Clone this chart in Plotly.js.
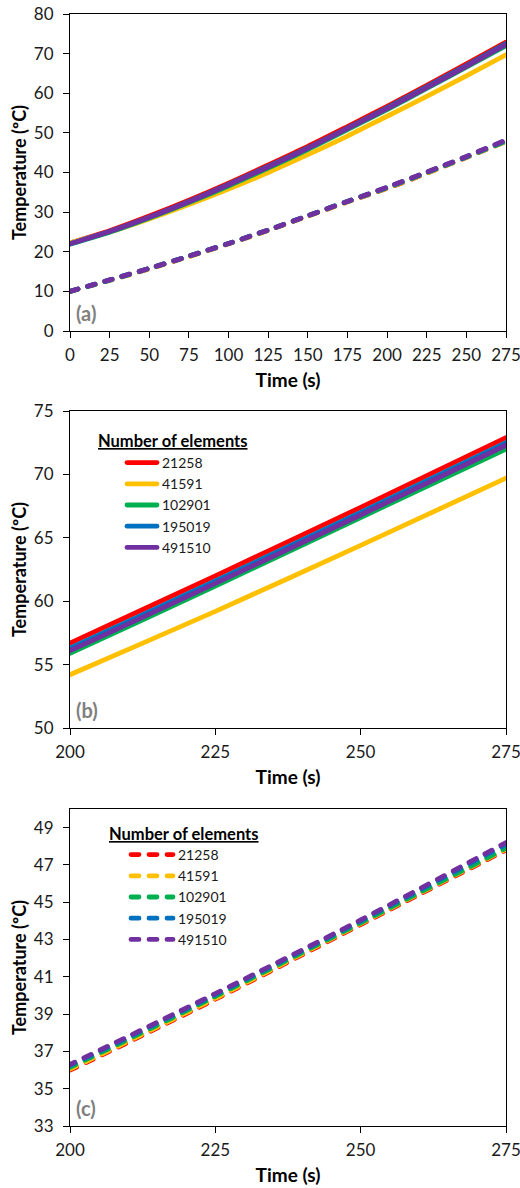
<!DOCTYPE html>
<html>
<head>
<meta charset="utf-8">
<script src="https://cdn.plot.ly/plotly-3.0.1.min.js"></script>
<style>
html,body{margin:0;padding:0;background:#fff;}
#chart{width:520px;height:1188px;}
#chart path.js-line{stroke-linecap:round;}
</style>
</head>
<body>
<div id="chart"></div>
<script>
// ---- data ----
const time = [0, 25, 50, 75, 100, 125, 150, 175, 200, 225, 250, 275];
const meshLabels = ['21258', '41591', '102901', '195019', '491510'];

// surface temperature (solid lines)
const solid21258  = [22.2, 25.3, 29.0, 33.0, 37.3, 41.9, 46.6, 51.6, 56.7, 62.0, 67.4, 72.9];
const solid41591  = [22.3, 25.0, 28.3, 31.9, 35.8, 40.0, 44.5, 49.2, 54.2, 59.2, 64.4, 69.7];
const solid102901 = [21.9, 24.9, 28.5, 32.4, 36.6, 41.1, 45.8, 50.8, 55.9, 61.2, 66.6, 72.0];
const solid195019 = [22.0, 25.1, 28.7, 32.7, 37.0, 41.5, 46.2, 51.2, 56.3, 61.6, 67.0, 72.5];
const solid491510 = [22.0, 25.1, 28.7, 32.6, 36.9, 41.4, 46.1, 51.1, 56.1, 61.4, 66.8, 72.3];

// inner temperature (dashed lines)
const dash21258  = [10.0, 12.8, 15.7, 18.8, 22.0, 25.4, 29.0, 32.6, 36.00, 39.80, 43.80, 47.80];
const dash41591  = [10.0, 12.8, 15.7, 18.8, 22.0, 25.4, 29.0, 32.6, 36.05, 39.85, 43.85, 47.85];
const dash102901 = [10.0, 12.8, 15.8, 18.9, 22.1, 25.5, 29.1, 32.7, 36.15, 39.95, 43.90, 47.90];
const dash195019 = [10.0, 12.9, 15.8, 18.9, 22.1, 25.5, 29.1, 32.7, 36.25, 40.05, 44.00, 48.10];
const dash491510 = [10.0, 12.9, 15.8, 18.9, 22.1, 25.5, 29.1, 32.7, 36.30, 40.10, 44.05, 48.20];

const solidSeries = [solid21258, solid41591, solid102901, solid195019, solid491510];
const dashSeries  = [dash21258, dash41591, dash102901, dash195019, dash491510];

// ---- styles ----
const colors = ['#FF0000', '#FFC000', '#00B050', '#0070C0', '#7030A0'];
const FONT = 'Lato, "Open Sans", sans-serif';
const TXT = '#1a1a1a';
const DASH = '8px,10px';
const LW = 4.8;

const traces = [];
// panel (a)
for (let i = 0; i < 5; i++) {
  traces.push({x: time, y: solidSeries[i], xaxis: 'x', yaxis: 'y', mode: 'lines',
    line: {color: colors[i], width: LW, shape: 'spline', smoothing: 0.8}, showlegend: false, hoverinfo: 'skip'});
}
for (let i = 0; i < 5; i++) {
  traces.push({x: time, y: dashSeries[i], xaxis: 'x', yaxis: 'y', mode: 'lines',
    line: {color: colors[i], width: LW, dash: DASH, shape: 'spline', smoothing: 0.8}, showlegend: false, hoverinfo: 'skip'});
}
// panel (b)
for (let i = 0; i < 5; i++) {
  traces.push({x: time, y: solidSeries[i], xaxis: 'x2', yaxis: 'y2', mode: 'lines', name: meshLabels[i],
    line: {color: colors[i], width: LW, shape: 'spline', smoothing: 0.8}, legend: 'legend', hoverinfo: 'skip'});
}
// panel (c)
for (let i = 0; i < 5; i++) {
  traces.push({x: time, y: dashSeries[i], xaxis: 'x3', yaxis: 'y3', mode: 'lines', name: meshLabels[i],
    line: {color: colors[i], width: LW, dash: DASH, shape: 'spline', smoothing: 0.8}, legend: 'legend2', hoverinfo: 'skip'});
}

const xDom = [70 / 520, 506 / 520];
const H = 1188;
const dom = (top, bottom) => [1 - bottom / H, 1 - top / H];

function xAxis(anchor, range, dtick) {
  return {
    domain: xDom, anchor: anchor, range: range, dtick: dtick, tick0: 0,
    showline: true, mirror: true, linecolor: '#000', linewidth: 1,
    ticks: 'outside', ticklen: 6, tickcolor: '#000', tickwidth: 1,
    showgrid: false, zeroline: false, ticklabelstandoff: 3, ticklabeloverflow: 'allow',
    tickfont: {family: FONT, size: 17, color: TXT},
    title: {text: '<b>Time (s)</b>', font: {family: FONT, size: 19, color: '#000'}, standoff: 9}
  };
}
function yAxis(anchor, domain, range, tick0, dtick) {
  return {
    domain: domain, anchor: anchor, range: range, tick0: tick0, dtick: dtick,
    showline: true, mirror: true, linecolor: '#000', linewidth: 1,
    ticks: 'outside', ticklen: 6, tickcolor: '#000', tickwidth: 1,
    showgrid: false, zeroline: false, ticklabelstandoff: 6, ticklabeloverflow: 'allow',
    tickfont: {family: FONT, size: 17, color: TXT},
    title: {text: '<b>Temperature (ºC)</b>', font: {family: FONT, size: 18, color: '#000'}, standoff: 2}
  };
}

const legendCommon = {
  xref: 'paper', yref: 'paper', xanchor: 'left', yanchor: 'top',
  bgcolor: 'rgba(0,0,0,0)', borderwidth: 0,
  font: {family: FONT, size: 14, color: TXT}, tracegroupgap: 0
};

const panelLabel = (xr, yr, t) => ({
  xref: xr, yref: yr, x: 0.01, y: 0.012, xanchor: 'left', yanchor: 'bottom',
  text: '<b>' + t + '</b>', showarrow: false,
  font: {family: FONT, size: 20, color: '#808080'}
});
const legendTitle = (x, y) => ({
  xref: 'paper', yref: 'paper', x: x / 520, y: 1 - y / H, xanchor: 'left', yanchor: 'middle',
  text: '<u><b>Number of elements</b></u>', showarrow: false,
  font: {family: FONT, size: 16.5, color: '#000'}
});

const layout = {
  width: 520, height: 1188, autosize: false,
  margin: {l: 0, r: 0, t: 0, b: 0},
  paper_bgcolor: '#fff', plot_bgcolor: '#fff',
  font: {family: FONT, color: TXT},
  xaxis: xAxis('y', [0, 275], 25),
  yaxis: yAxis('x', dom(14, 331), [0, 80], 0, 10),
  xaxis2: xAxis('y2', [200, 275], 25),
  yaxis2: yAxis('x2', dom(411, 728), [50, 75], 50, 5),
  xaxis3: xAxis('y3', [200, 275], 25),
  yaxis3: yAxis('x3', dom(809, 1126), [33, 50], 33, 2),
  legend: Object.assign({}, legendCommon, {x: 122 / 520, y: 1 - 447 / H, itemwidth: 30}),
  legend2: Object.assign({}, legendCommon, {x: 126 / 520, y: 1 - 839 / H, itemwidth: 42}),
  annotations: [
    panelLabel('x domain', 'y domain', '(a)'),
    panelLabel('x2 domain', 'y2 domain', '(b)'),
    panelLabel('x3 domain', 'y3 domain', '(c)'),
    legendTitle(96, 441),
    legendTitle(107, 834)
  ],
  showlegend: true
};

Plotly.newPlot('chart', traces, layout, {staticPlot: true, displayModeBar: false});
</script>
</body>
</html>
